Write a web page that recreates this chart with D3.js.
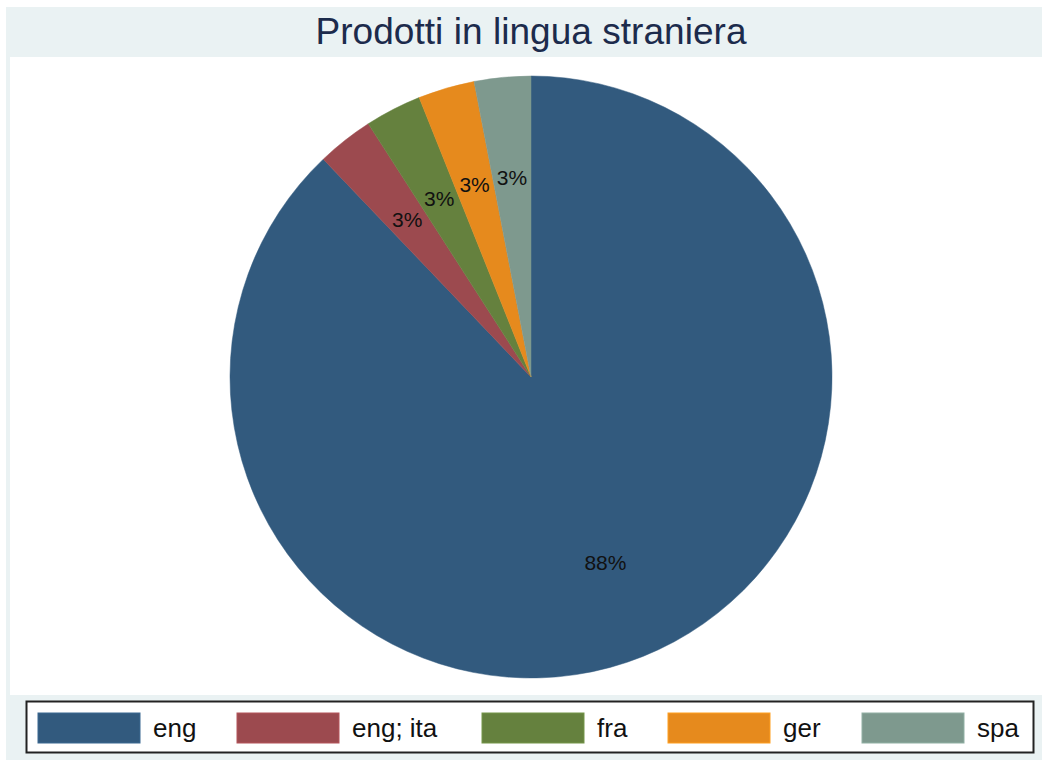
<!DOCTYPE html>
<html><head><meta charset="utf-8">
<script src="https://cdn.jsdelivr.net/npm/d3@7"></script>
<style>body{margin:0;background:#fff}svg{display:block}text{font-family:"Liberation Sans",Arial,sans-serif}</style>
</head><body>
<svg id="c" width="1042" height="760"></svg>
<script>
const categories = ["eng", "eng; ita", "fra", "ger", "spa"];
const counts = [29, 1, 1, 1, 1];
const colors = ["#325A7E", "#9C4A4F", "#65813E", "#E68A1D", "#7E998E"];
const titleText = "Prodotti in lingua straniera";

const svg = d3.select("#c");
// outer graph region
svg.append("rect").attr("x", 6).attr("y", 7).attr("width", 1036).attr("height", 753).attr("fill", "#EAF2F3");
// plot region
svg.append("rect").attr("x", 10).attr("y", 57).attr("width", 1032).attr("height", 638).attr("fill", "#fff");

svg.append("text").attr("x", 531).attr("y", 44).attr("text-anchor", "middle")
  .attr("font-size", 37).attr("fill", "#1C2B4C").attr("textLength", 431).text(titleText);

const cx = 531, cy = 377, r = 301;
const total = d3.sum(counts);
const pie = d3.pie().sort(null).value(d => d);
const arcs = pie(counts);
const arc = d3.arc().innerRadius(0).outerRadius(r);
const labelArc = d3.arc().innerRadius(r * 0.665).outerRadius(r * 0.665);
const color = d3.scaleOrdinal().domain(d3.range(categories.length)).range(colors);

const g = svg.append("g").attr("transform", `translate(${cx},${cy})`);
g.selectAll("path").data(arcs).join("path")
  .attr("d", arc).attr("fill", (d, i) => color(i))
  .attr("stroke", (d, i) => color(i)).attr("stroke-width", 0.5);
g.selectAll("text").data(arcs).join("text")
  .attr("transform", d => `translate(${labelArc.centroid(d)})`)
  .attr("text-anchor", "middle").attr("dy", "0.35em")
  .attr("font-size", 21).attr("fill", "#111")
  .text(d => Math.round(d.value / total * 100) + "%");

// legend
svg.append("rect").attr("x", 26.5).attr("y", 701.5).attr("width", 1007).attr("height", 51)
  .attr("fill", "#fff").attr("stroke", "#222").attr("stroke-width", 2);
const swX = [38, 237, 482, 668, 862];
const lg = svg.append("g");
categories.forEach((c, i) => {
  lg.append("rect").attr("x", swX[i]).attr("y", 713).attr("width", 102).attr("height", 30)
    .attr("fill", colors[i]).attr("stroke", d3.color(colors[i]).brighter(0.4)).attr("stroke-width", 1);
  lg.append("text").attr("x", swX[i] + 115).attr("y", 737).attr("font-size", 26)
    .attr("fill", "#111").text(c);
});
</script>
</body></html>
